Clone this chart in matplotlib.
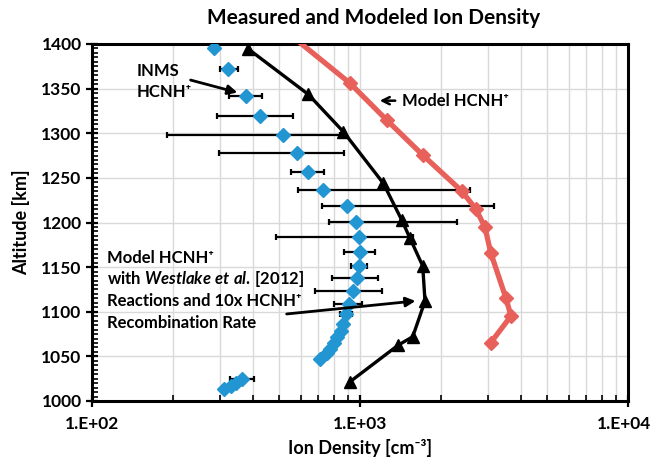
"""Measured vs modeled HCNH+ ion density profile."""

import matplotlib
matplotlib.use("Agg")
import matplotlib.pyplot as plt
import matplotlib.transforms as mtransforms
import numpy as np
from matplotlib.ticker import LogLocator, MultipleLocator, NullFormatter

plt.rcParams["font.family"] = ["Lato", "DejaVu Sans"]
plt.rcParams["font.weight"] = "bold"
plt.rcParams["mathtext.fontset"] = "custom"
plt.rcParams["mathtext.rm"] = "Lato:bold"
plt.rcParams["mathtext.it"] = "Lato:italic:bold"

# INMS measured HCNH+ (cm^-3) and altitude (km)
inms_alt = [1395.5, 1372, 1341.7, 1319.3, 1298, 1277.5, 1256.2, 1236.4, 1218.5, 1200.6,
            1183.4, 1167.3, 1151.3, 1137.5, 1123.6, 1108.7, 1097.5, 1086.3, 1078.4, 1071.7,
            1065, 1058.3, 1053.8, 1047.1, 1024.3, 1020.5, 1017.1, 1013.1]
inms_den = [286, 323, 375, 424, 515, 583, 641, 730, 892, 966,
            994, 1000, 994, 972, 939, 912, 883, 864, 846, 824,
            800, 776, 753, 712, 362, 345, 329, 311]
inms_lo = [np.nan, 300, 325, 292, 190, 299, 553, 585, 719, 768,
           485, 871, 923, 784, 679, 802, 842, np.nan, np.nan, np.nan,
           np.nan, np.nan, np.nan, np.nan, 327, np.nan, np.nan, np.nan]
inms_hi = [np.nan, 350, 430, 561, 842, 871, 736, 2573, 3162, 2301,
           1577, 1138, 1065, 1170, 1205, 1015, 931, np.nan, np.nan, np.nan,
           np.nan, np.nan, np.nan, np.nan, 402, np.nan, np.nan, np.nan]

# Model HCNH+ with Westlake et al. [2012] reactions and 10x recombination
west_alt = [1394.4, 1343.6, 1301.7, 1243.9, 1202.8, 1182.3, 1151.3, 1112, 1072, 1062.7, 1021.6]
west_den = [383, 641, 867, 1222, 1431, 1537, 1714, 1748, 1573, 1390, 918]

# Model HCNH+
model_alt = [1440, 1356, 1314.8, 1275.6, 1235.3, 1214.8, 1194.6, 1166.2, 1115, 1095.2, 1065.3]
model_den = [415, 918, 1258, 1714, 2396, 2710, 2927, 3074, 3506, 3659, 3074]

fig = plt.figure(figsize=(6.52, 4.58), dpi=100, facecolor="white")
ax = fig.add_axes([92 / 652, 1 - 401 / 458, 536 / 652, 357 / 458])

ax.set_xscale("log")
ax.set_xlim(100, 10000)
ax.set_ylim(1000, 1400)

# error bars
alt = np.array(inms_alt)
den = np.array(inms_den)
lo = np.array(inms_lo)
hi = np.array(inms_hi)
has_err = ~np.isnan(lo)
ax.errorbar(den[has_err], alt[has_err],
            xerr=[den[has_err] - lo[has_err], hi[has_err] - den[has_err]],
            fmt="none", ecolor="black", elinewidth=1.6, capsize=2.2, capthick=1.6, zorder=3)

ax.plot(west_den, west_alt, color="black", lw=2.4, marker="^", ms=8.5, zorder=4, clip_on=False)
ax.plot(model_den, model_alt, color="#e8605a", lw=3.8, marker="D", ms=7, zorder=4)
ax.plot(den, alt, ls="none", marker="D", ms=7.5, color="#2196d3", zorder=5)

# grid + ticks
ax.xaxis.set_minor_locator(LogLocator(base=10, subs=np.arange(2, 10), numticks=20))
ax.xaxis.set_minor_formatter(NullFormatter())
ax.set_xticks([100, 1000, 10000], ["1.E+02", "1.E+03", "1.E+04"])
ax.yaxis.set_major_locator(MultipleLocator(50))
ax.yaxis.set_minor_locator(MultipleLocator(5))
ax.grid(True, which="both", axis="x", color="#d9d9d9", lw=1, zorder=0)
ax.grid(True, which="major", axis="y", color="#d9d9d9", lw=1, zorder=0)
ax.set_axisbelow(True)
ax.tick_params(which="major", direction="inout", length=9, width=1.6, labelsize=12.5, pad=3)
ax.tick_params(which="minor", direction="in", length=4, width=1.2)
ax.tick_params(axis="x", which="major", pad=6)
for side in ax.spines.values():
    side.set_linewidth(2.2)
    side.set_color("black")

# keep the last x label inside the canvas
last = ax.get_xticklabels()[-1]
last.set_transform(last.get_transform() + mtransforms.ScaledTranslation(-4 / 100, 0, fig.dpi_scale_trans))

ax.set_xlabel("Ion Density [cm⁻³]", fontsize=13, fontweight="bold", labelpad=5)
ax.set_ylabel("Altitude [km]", fontsize=13, fontweight="bold", labelpad=8)
fig.text(374 / 652, 1 - 18 / 458, "Measured and Modeled Ion Density",
         ha="center", va="center", fontsize=15, fontweight="bold")

# annotations
arrow = dict(arrowstyle="-|>", color="black", lw=2, mutation_scale=14)
ax.annotate("", xy=(357, 1344.8), xytext=(228, 1360.4), arrowprops=arrow, zorder=6)
ax.text(147, 1358, "INMS\nHCNH⁺", ha="left", va="center", fontsize=12,
        fontweight="bold", linespacing=1.35)

ax.annotate("", xy=(1157, 1336.5), xytext=(1386, 1336.5),
            arrowprops=dict(arrowstyle="->", color="black", lw=1.8, mutation_scale=13))
ax.text(1431, 1336.5, "Model HCNH⁺", ha="left", va="center", fontsize=12, fontweight="bold")

block = ["Model HCNH⁺", r"with $Westlake\ et\ al.\,$[2012]",
         "Reactions and 10x HCNH⁺", "Recombination Rate"]
for line, y in zip(block, [1159.9, 1136.4, 1112.0, 1087.7]):
    ax.text(113.5, y, line, ha="left", va="center", fontsize=12, fontweight="bold", zorder=6)
ax.annotate("", xy=(1650, 1112.4), xytext=(520, 1097.2), arrowprops=arrow, zorder=6)

fig.savefig("out.png", dpi=100, facecolor="white")
